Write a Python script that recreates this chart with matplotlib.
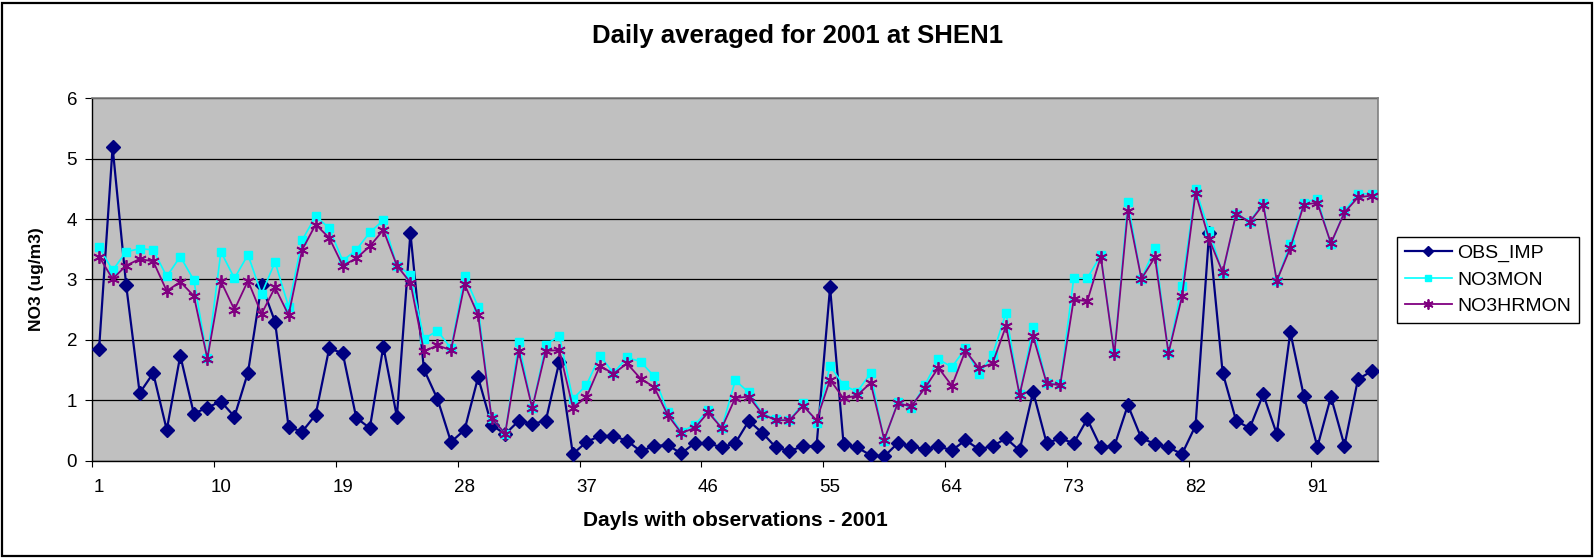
import matplotlib
matplotlib.use("Agg")
import matplotlib.pyplot as plt
from matplotlib.patches import Rectangle
import numpy as np

plt.rcParams['font.family'] = ['Liberation Sans', 'DejaVu Sans']

days = list(range(1, 96))

obs_imp = [1.85, 5.19, 2.91, 1.12, 1.45, 0.51, 1.74, 0.78, 0.88, 0.98,
           0.73, 1.46, 2.91, 2.30, 0.56, 0.48, 0.76, 1.86, 1.78, 0.71,
           0.54, 1.89, 0.73, 3.77, 1.51, 1.02, 0.31, 0.51, 1.38, 0.59,
           0.44, 0.66, 0.61, 0.66, 1.64, 0.11, 0.31, 0.41, 0.41, 0.33,
           0.16, 0.24, 0.26, 0.12, 0.29, 0.29, 0.22, 0.29, 0.66, 0.46,
           0.22, 0.16, 0.24, 0.24, 2.87, 0.27, 0.22, 0.09, 0.07, 0.29,
           0.24, 0.19, 0.24, 0.17, 0.34, 0.19, 0.24, 0.37, 0.17, 1.14,
           0.29, 0.37, 0.29, 0.69, 0.22, 0.24, 0.92, 0.37, 0.28, 0.22,
           0.11, 0.58, 3.77, 1.46, 0.66, 0.54, 1.10, 0.44, 2.13, 1.07,
           0.23, 1.06, 0.25, 1.35, 1.48]

no3mon = [3.54, 3.15, 3.46, 3.51, 3.49, 3.05, 3.38, 2.99, 1.70, 3.46,
          3.02, 3.41, 2.76, 3.29, 2.55, 3.65, 4.05, 3.85, 3.31, 3.49,
          3.78, 3.98, 3.23, 3.08, 2.02, 2.15, 1.86, 3.06, 2.55, 0.70,
          0.45, 1.96, 0.87, 1.92, 2.07, 1.02, 1.25, 1.74, 1.45, 1.71,
          1.64, 1.40, 0.81, 0.48, 0.59, 0.84, 0.54, 1.33, 1.13, 0.78,
          0.69, 0.67, 0.95, 0.63, 1.57, 1.25, 1.14, 1.45, 0.33, 0.97,
          0.88, 1.25, 1.68, 1.55, 1.86, 1.43, 1.75, 2.45, 1.10, 2.21,
          1.29, 1.27, 3.02, 3.02, 3.40, 1.78, 4.28, 3.01, 3.52, 1.78,
          2.90, 4.50, 3.81, 3.10, 4.09, 3.96, 4.27, 2.98, 3.59, 4.27,
          4.34, 3.58, 4.13, 4.42, 4.42]

no3hrmon = [3.38, 3.01, 3.23, 3.34, 3.30, 2.81, 2.96, 2.73, 1.69, 2.97,
            2.50, 2.98, 2.43, 2.87, 2.41, 3.49, 3.91, 3.69, 3.23, 3.35,
            3.55, 3.82, 3.23, 2.95, 1.81, 1.91, 1.83, 2.92, 2.41, 0.70,
            0.45, 1.81, 0.87, 1.82, 1.83, 0.88, 1.05, 1.57, 1.44, 1.61,
            1.36, 1.22, 0.76, 0.46, 0.54, 0.80, 0.54, 1.04, 1.06, 0.77,
            0.67, 0.67, 0.91, 0.67, 1.34, 1.03, 1.08, 1.29, 0.35, 0.95,
            0.90, 1.20, 1.54, 1.24, 1.82, 1.53, 1.61, 2.23, 1.09, 2.06,
            1.28, 1.25, 2.67, 2.64, 3.38, 1.76, 4.14, 3.01, 3.37, 1.78,
            2.72, 4.43, 3.67, 3.12, 4.09, 3.95, 4.24, 2.98, 3.52, 4.24,
            4.27, 3.60, 4.11, 4.36, 4.39]

series_names = ["OBS_IMP", "NO3MON", "NO3HRMON"]
xtick_labels = ["1", "10", "19", "28", "37", "46", "55", "64", "73", "82", "91"]
ytick_values = [0, 1, 2, 3, 4, 5, 6]

W, H = 1596, 559
fig = plt.figure(figsize=(W / 100, H / 100), dpi=100)
fig.patch.set_facecolor("white")

# plot area in pixels
left, right, top, bottom = 92.3, 1378.3, 98.3, 460.7
ax = fig.add_axes([left / W, 1 - bottom / H, (right - left) / W, (bottom - top) / H])
ax.set_facecolor("#C0C0C0")

ax.plot(days, obs_imp, color="#000080", lw=1.6, marker="D", markersize=6.8,
        label=series_names[0], zorder=3)
ax.plot(days, no3mon, color="#00FFFF", lw=1.2, marker="s", markersize=6,
        label=series_names[1], zorder=4)
ax.plot(days, no3hrmon, color="#800080", lw=1.3, marker=(6, 2, 0), markersize=9,
        markeredgewidth=1.3, label=series_names[2], zorder=5)

ax.set_xlim(0.5, len(days) + 0.5)
ax.set_ylim(0, 6)

# y axis
ax.set_yticks(ytick_values)
ax.set_yticklabels([str(v) for v in ytick_values])
ax.tick_params(axis="y", direction="out", length=5, width=0.8, pad=6,
               labelsize=13.5, color="black")
ax.yaxis.grid(True, color="black", lw=0.9)
ax.set_axisbelow(True)

# x axis: major ticks at category boundaries, labels at category centers
label_pos = [int(s) for s in xtick_labels]
ax.set_xticks([p - 0.5 for p in label_pos])
ax.set_xticklabels([])
ax.set_xticks(label_pos, minor=True)
ax.set_xticklabels(xtick_labels, minor=True)
ax.tick_params(axis="x", which="major", direction="out", length=4, width=0.8)
ax.tick_params(axis="x", which="minor", length=0, pad=13, labelsize=13.5)

for s in ["top", "right"]:
    ax.spines[s].set_color("#808080")
    ax.spines[s].set_linewidth(1.2)
for s in ["left", "bottom"]:
    ax.spines[s].set_color("black")
    ax.spines[s].set_linewidth(1.0)

ax.set_xlabel("Dayls with observations - 2001", fontsize=15, fontweight="bold")
ax.xaxis.set_label_coords(0.5, (38 - (H - bottom)) / (bottom - top))
ax.xaxis.label.set_verticalalignment("center")

ax.set_ylabel("NO3 (ug/m3)", fontsize=12.5, fontweight="bold")
ax.yaxis.set_label_coords((37 - left) / (right - left), 0.5)
ax.yaxis.label.set_verticalalignment("center")

fig.suptitle("Daily averaged for 2001 at SHEN1", x=0.5, y=1 - 36 / H,
             va="center", fontsize=18.5, fontweight="bold")

leg = ax.legend(loc="center left", bbox_to_anchor=(1397.3 / W, 1 - 279.7 / H),
                bbox_transform=fig.transFigure, fontsize=14, frameon=True,
                fancybox=False, edgecolor="black", framealpha=1,
                borderpad=0.4, labelspacing=0.45, handlelength=2.4,
                handletextpad=0.3, borderaxespad=0)
leg.get_frame().set_linewidth(1.0)
for h in leg.legend_handles:
    h.set_markersize(h.get_markersize() * 0.8)

# outer chart border
fig.patches.append(Rectangle((2 / W, 3 / H), 1590 / W, 553 / H, transform=fig.transFigure,
                             fill=False, edgecolor="black", lw=1.6))

fig.savefig("out.png", dpi=100)
